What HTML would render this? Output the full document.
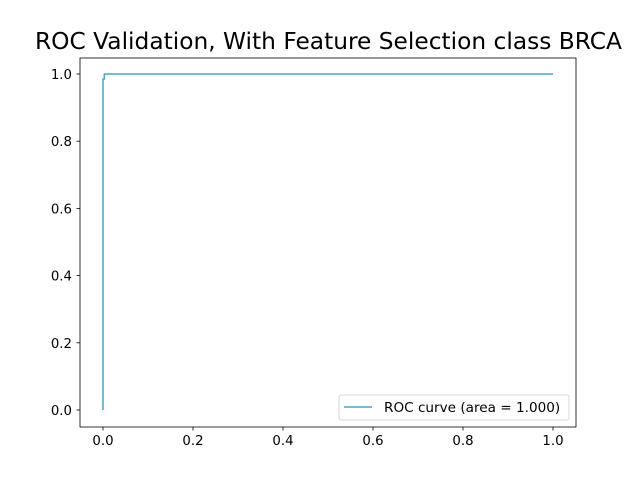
<!DOCTYPE html>
<html><head><meta charset="utf-8"><style>body{margin:0;background:#fff}svg{display:block;font-family:"DejaVu Sans","Liberation Sans",sans-serif}</style></head>
<body>
<svg id="chart" width="640" height="480" xmlns="http://www.w3.org/2000/svg">
<rect width="640" height="480" fill="#fff"/>
<text x="328.5" y="49" font-size="23.3" text-anchor="middle">ROC Validation, With Feature Selection class BRCA</text>
<g id="ticks"></g>
<path id="curve" fill="none" stroke="#4aa3c2" stroke-width="1.5"/>
<rect x="80" y="58" width="496" height="369" fill="none" stroke="#000" stroke-width="0.8"/>
<g>
<rect x="339" y="395" width="230" height="25" rx="2" fill="#fff" stroke="#ccc" stroke-width="0.8"/>
<line x1="344" y1="407" x2="372" y2="407" stroke="#4aa3c2" stroke-width="1.5"/>
<text x="384" y="412" font-size="13.6">ROC curve (area = 1.000)</text>
</g>
</svg>
<script>
const fprValues=[0,0,0.003,0.003,1];
const tprValues=[0,0.985,0.985,1,1];
const xTicks=[0,0.2,0.4,0.6,0.8,1.0];
const yTicks=[0,0.2,0.4,0.6,0.8,1.0];
const xs=v=>103+v*450, ys=v=>410-v*336;
const ns="http://www.w3.org/2000/svg";
const g=document.getElementById('ticks');
function mk(t,a){const e=document.createElementNS(ns,t);for(const k in a)e.setAttribute(k,a[k]);g.appendChild(e);return e;}
xTicks.forEach(v=>{const x=xs(v);
const l=mk('line',{x1:x,x2:x,y1:427,y2:430.5,stroke:'#000','stroke-width':0.8});


const t=mk('text',{x:x,y:445,'font-size':13.3,'text-anchor':'middle'});t.textContent=v.toFixed(1);

});
yTicks.forEach(v=>{const y=ys(v);
const l=mk('line',{x1:76.5,x2:80,y1:y,y2:y,stroke:'#000','stroke-width':0.8});


const t=mk('text',{x:72,y:y+5,'font-size':13.3,'text-anchor':'end'});t.textContent=v.toFixed(1);

});
document.getElementById('curve').setAttribute('d',fprValues.map((f,i)=>(i?'L':'M')+xs(f)+','+ys(tprValues[i])).join(' '));
</script>
</body></html>
